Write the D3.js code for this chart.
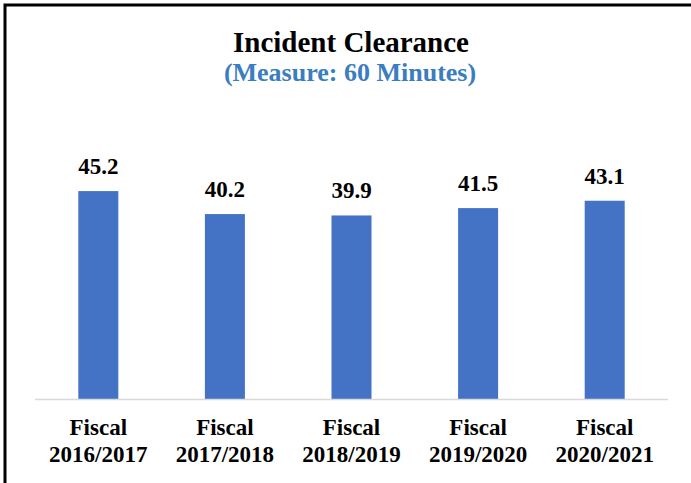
<html>
<script src="https://d3js.org/d3.v7.min.js"></script>
<style>
body { margin: 0; background: #fff; }
text { font-family: "Liberation Serif", "Times New Roman", serif; font-weight: bold; }
</style>
<body>
<svg width="691" height="483"></svg>
<script>
var years = ["2016/2017", "2017/2018", "2018/2019", "2019/2020", "2020/2021"];
var values = [45.2, 40.2, 39.9, 41.5, 43.1];

var svg = d3.select("svg");

// frame runs off the right and bottom edges
svg.append("rect")
  .attr("x", 5).attr("y", 5)
  .attr("width", 720).attr("height", 520)
  .attr("fill", "none")
  .attr("stroke", "#000")
  .attr("stroke-width", 3);

svg.append("text")
  .attr("x", 351).attr("y", 52)
  .attr("text-anchor", "middle")
  .attr("font-size", "29px")
  .attr("fill", "#000")
  .text("Incident Clearance");

svg.append("text")
  .attr("x", 350).attr("y", 81)
  .attr("text-anchor", "middle")
  .attr("font-size", "26px")
  .attr("fill", "#3A7DC0")
  .text("(Measure: 60 Minutes)");

var x = d3.scaleBand()
  .domain(years)
  .range([35, 668])
  .paddingInner(0.684)
  .paddingOuter(0.342);

var y = d3.scaleLinear()
  .domain([0, 50])
  .range([399, 169]);

svg.append("g")
  .selectAll("rect")
  .data(values)
  .enter()
  .append("rect")
    .attr("x", function (d, i) { return x(years[i]); })
    .attr("y", function (d) { return y(d); })
    .attr("width", x.bandwidth())
    .attr("height", function (d) { return y(0) - y(d); })
    .attr("fill", "#4472C4");

svg.append("g")
  .selectAll("text")
  .data(values)
  .enter()
  .append("text")
    .attr("x", function (d, i) { return x(years[i]) + x.bandwidth() / 2; })
    .attr("y", function (d) { return y(d) - 17; })
    .attr("text-anchor", "middle")
    .attr("font-size", "23px")
    .attr("fill", "#000")
    .text(function (d) { return d.toFixed(1); });

svg.append("line")
  .attr("x1", 35).attr("x2", 668)
  .attr("y1", y(0) + 0.5).attr("y2", y(0) + 0.5)
  .attr("stroke", "#D9D9D9")
  .attr("stroke-width", 1.5);

var labels = svg.append("g")
  .selectAll("text")
  .data(years)
  .enter()
  .append("text")
    .attr("text-anchor", "middle")
    .attr("font-size", "23px")
    .attr("fill", "#000");
labels.append("tspan")
  .attr("x", function (d) { return x(d) + x.bandwidth() / 2; })
  .attr("y", 435)
  .text("Fiscal");
labels.append("tspan")
  .attr("x", function (d) { return x(d) + x.bandwidth() / 2; })
  .attr("y", 462)
  .text(function (d) { return d; });
</script>
</body>
</html>
